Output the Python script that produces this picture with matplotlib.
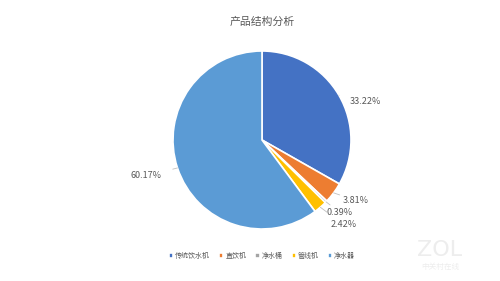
import matplotlib
matplotlib.use("Agg")
import matplotlib.pyplot as plt
import numpy as np

plt.rcParams['font.family'] = ['Noto Sans CJK SC', 'DejaVu Sans']

categories = ['传统饮水机', '直饮机', '净水桶', '管线机', '净水器']
values = [33.22, 3.81, 0.39, 2.42, 60.17]
colors = ['#4472C4', '#ED7D31', '#A5A5A5', '#FFC000', '#5B9BD5']
title = '产品结构分析'

label_r = [1.24, 1.25, 1.19, 1.32, 1.36]
label_ang_shift = [-10, 3.6, 1, 3, -1]

fig = plt.figure(figsize=(5.0, 2.81), dpi=100)
W, H = 500, 281
cx, cy, R = 262, 140, 89
ax = fig.add_axes([(cx - R) / W, (H - cy - R) / H, 2 * R / W, 2 * R / H])
wedges, _ = ax.pie(values, colors=colors, startangle=90, counterclock=False,
                   wedgeprops=dict(edgecolor='white', linewidth=1.2))
ax.set_aspect('equal')
ax.set_xlim(-1, 1)
ax.set_ylim(-1, 1)

for w, v, r, s in zip(wedges, values, label_r, label_ang_shift):
    mid = np.deg2rad((w.theta1 + w.theta2) / 2)
    ang = mid + np.deg2rad(s)
    tx, ty = r * np.cos(ang), r * np.sin(ang)
    ex, ey = 1.0 * np.cos(mid), 1.0 * np.sin(mid)
    ax.annotate(f'{v:.2f}%', xy=(ex, ey), xytext=(tx, ty),
                ha='center', va='center', fontsize=6.5, color='#595959',
                arrowprops=dict(arrowstyle='-', color='#BFBFBF', lw=0.6,
                                shrinkA=6, shrinkB=0),
                annotation_clip=False)

fig.text(262 / W, 1 - 22 / H, title, ha='center', va='center',
         fontsize=7.8, color='#595959')

leg = fig.legend(wedges, categories, loc='center', bbox_to_anchor=(262 / W, 1 - 256 / H),
                 ncol=5, frameon=False, fontsize=5, handlelength=0.5, handleheight=0.5,
                 handletextpad=0.4, columnspacing=1.3, labelcolor='#595959')
for h in leg.legend_handles:
    h.set_width(3)
    h.set_height(3)

fig.text(440 / W, 1 - 250 / H, 'ZOL', ha='center', va='center', fontsize=16,
         color='#EDEDED', family='DejaVu Sans')
fig.text(440 / W, 1 - 267 / H, '中关村在线', ha='center', va='center', fontsize=5.5,
         color='#EDEDED')

fig.savefig('out.png', dpi=100, facecolor='white')
